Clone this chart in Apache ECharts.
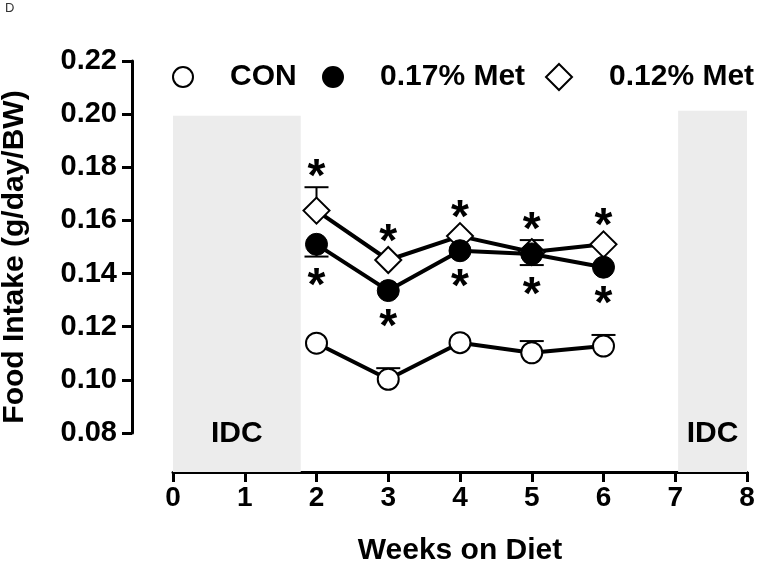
<!DOCTYPE html>
<html>
<head>
<meta charset="utf-8">
<script src="https://cdn.jsdelivr.net/npm/echarts@6/dist/echarts.min.js"></script>
<style>
  html, body { margin: 0; padding: 0; background: #fff; }
  #chart { width: 759px; height: 570px; }
</style>
</head>
<body>
<div id="chart"></div>
<script>
var FONT = 'Liberation Sans, Arial, sans-serif';

// weeks on diet
var weeks = [2, 3, 4, 5, 6];
// food intake means (g/day/BW)
var conMean = [0.1138, 0.1002, 0.1140, 0.1102, 0.1127];
var met017Mean = [0.1510, 0.1336, 0.1486, 0.1474, 0.1424];
var met012Mean = [0.1637, 0.1451, 0.1541, 0.1481, 0.1510];
// visible SEM (up / down), 0 = hidden behind the marker
var conErrUp = [0, 0.0042, 0, 0.0044, 0.0042];
var conErrDown = [0, 0, 0, 0, 0];
var met017ErrUp = [0, 0, 0, 0, 0];
var met017ErrDown = [0.0046, 0, 0, 0.0042, 0];
var met012ErrUp = [0.0088, 0, 0, 0.0045, 0];
var met012ErrDown = [0, 0, 0, 0, 0];
// significance (*) vs CON
var sig012 = [1, 1, 1, 1, 1];
var sig017 = [1, 1, 1, 1, 1];
// IDC periods (weeks) and their height
var idcRanges = [[0, 1.78], [7.04, 8]];
var idcTop = [0.1994, 0.2013];

var yTicks = [0.08, 0.10, 0.12, 0.14, 0.16, 0.18, 0.20, 0.22];
var yFloor = 0.0653; // value at the x axis line (axis sits below 0.08)

function pairs(xs, ys) {
  return xs.map(function (x, i) { return [x, ys[i]]; });
}
function errRows(means, up, down) {
  return weeks.map(function (w, i) { return [w, means[i], up[i], down[i]]; });
}
function sigRows(means, err, sig) {
  var out = [];
  weeks.forEach(function (w, i) { if (sig[i]) out.push([w, means[i], err[i]]); });
  return out;
}

function renderErr(params, api) {
  var x = api.value(0), m = api.value(1), up = api.value(2), dn = api.value(3);
  var c = api.coord([x, m]);
  var half = 12;
  var kids = [];
  var st = { stroke: '#000', lineWidth: 2 };
  [[up, 1], [dn, -1]].forEach(function (e) {
    if (e[0] > 0) {
      var t = api.coord([x, m + e[0] * e[1]]);
      kids.push({ type: 'line', shape: { x1: c[0], y1: c[1], x2: t[0], y2: t[1] }, style: st });
      kids.push({ type: 'line', shape: { x1: t[0] - half, y1: t[1], x2: t[0] + half, y2: t[1] }, style: st });
    }
  });
  return { type: 'group', children: kids };
}

function renderSig(dir) {
  return function (params, api) {
    var x = api.value(0), m = api.value(1), e = api.value(2);
    var c = api.coord([x, m]);
    var t = api.coord([x, m + dir * e]);
    var y;
    if (dir > 0) y = Math.min(c[1] - 27, t[1] - 19);
    else y = Math.max(c[1] + 28, t[1] + 21);
    return {
      type: 'text',
      x: c[0],
      y: y + 10,
      style: { text: '*', fontSize: 46, fontWeight: 'bold', fontFamily: FONT, fill: '#000', align: 'center', verticalAlign: 'middle' }
    };
  };
}

var legendText = { fontSize: 30, fontWeight: 'bold', color: '#000', fontFamily: FONT, padding: [0, 0, 0, 32] };
function legendAt(name, icon, fill, left, size) {
  return {
    left: left, top: 62, padding: 0,
    itemWidth: size, itemHeight: size,
    textStyle: legendText,
    data: [{ name: name, icon: icon, itemStyle: { color: fill, borderColor: '#000', borderWidth: 2 } }]
  };
}

var chart = echarts.init(document.getElementById('chart'));
var option = {
  animation: false,
  title: { text: 'D', left: 5, top: 2, padding: 0, textStyle: { fontSize: 13, fontWeight: 'normal', color: '#333', fontFamily: FONT } },
  legend: [
    legendAt('CON', 'circle', '#fff', 172, 20),
    legendAt('0.17% Met', 'circle', '#000', 322, 20),
    legendAt('0.12% Met', 'diamond', '#fff', 545, 26)
  ],
  grid: [
    // data area
    { left: 173, right: 12, top: 61, height: 372, outerBoundsMode: 'none', containLabel: false },
    // x axis + IDC shading (reaches below 0.08)
    { left: 173, right: 12, top: 61, height: 411, outerBoundsMode: 'none', containLabel: false },
    // detached y axis
    { left: 132, right: 12, top: 61, height: 372, outerBoundsMode: 'none', containLabel: false }
  ],
  xAxis: [
    { gridIndex: 0, type: 'value', min: 0, max: 8, show: false },
    {
      gridIndex: 1, type: 'value', min: 0, max: 8, interval: 1,
      name: 'Weeks on Diet', nameLocation: 'middle', nameGap: 64,
      nameTextStyle: { fontSize: 30, fontWeight: 'bold', color: '#000', fontFamily: FONT },
      axisLine: { show: true, lineStyle: { color: '#000', width: 3 } },
      axisTick: { show: true, length: 10, lineStyle: { color: '#000', width: 3 } },
      axisLabel: { fontSize: 28, fontWeight: 'bold', color: '#000', fontFamily: FONT, margin: 12 },
      splitLine: { show: false }
    },
    { gridIndex: 2, type: 'value', min: 1, max: 2, show: false }
  ],
  yAxis: [
    { gridIndex: 0, type: 'value', min: yTicks[0], max: yTicks[yTicks.length - 1], show: false },
    { gridIndex: 1, type: 'value', min: yFloor, max: 0.22, show: false },
    {
      gridIndex: 2, type: 'value', min: yTicks[0], max: yTicks[yTicks.length - 1], interval: 0.02,
      name: 'Food Intake (g/day/BW)', nameLocation: 'middle', nameGap: 102,
      nameTextStyle: { fontSize: 30, fontWeight: 'bold', color: '#000', fontFamily: FONT, padding: [0, 20, 0, 0] },
      axisLine: { show: true, lineStyle: { color: '#000', width: 3 } },
      axisTick: { show: true, length: 10, lineStyle: { color: '#000', width: 3 } },
      axisLabel: { fontSize: 29, fontWeight: 'bold', color: '#000', fontFamily: FONT, margin: 15,
        formatter: function (v) { return v.toFixed(2); } },
      splitLine: { show: false }
    }
  ],
  series: [
    {
      name: 'IDC', type: 'line', xAxisIndex: 1, yAxisIndex: 1, data: [], z: 0,
      markArea: {
        silent: true,
        itemStyle: { color: '#ececec' },
        label: { show: true, position: 'insideBottom', distance: 23, fontSize: 30, fontWeight: 'bold', color: '#000', fontFamily: FONT },
        data: idcRanges.map(function (r, i) {
          return [{ name: 'IDC', xAxis: r[0], yAxis: idcTop[i] }, { xAxis: r[1], yAxis: yFloor }];
        })
      }
    },
    {
      type: 'custom', name: 'errCON', xAxisIndex: 0, yAxisIndex: 0, z: 1,
      renderItem: renderErr, data: errRows(conMean, conErrUp, conErrDown)
    },
    {
      type: 'custom', name: 'err012', xAxisIndex: 0, yAxisIndex: 0, z: 1,
      renderItem: renderErr, data: errRows(met012Mean, met012ErrUp, met012ErrDown)
    },
    {
      type: 'custom', name: 'err017', xAxisIndex: 0, yAxisIndex: 0, z: 1,
      renderItem: renderErr, data: errRows(met017Mean, met017ErrUp, met017ErrDown)
    },
    {
      name: 'CON', type: 'line', xAxisIndex: 0, yAxisIndex: 0, z: 3,
      data: pairs(weeks, conMean),
      symbol: 'circle', symbolSize: 21,
      itemStyle: { color: '#fff', borderColor: '#000', borderWidth: 2 },
      lineStyle: { color: '#000', width: 4 }
    },
    {
      name: '0.12% Met', type: 'line', xAxisIndex: 0, yAxisIndex: 0, z: 3,
      data: pairs(weeks, met012Mean),
      symbol: 'diamond', symbolSize: 26,
      itemStyle: { color: '#fff', borderColor: '#000', borderWidth: 2 },
      lineStyle: { color: '#000', width: 4 }
    },
    {
      name: '0.17% Met', type: 'line', xAxisIndex: 0, yAxisIndex: 0, z: 4,
      data: pairs(weeks, met017Mean),
      symbol: 'circle', symbolSize: 22,
      itemStyle: { color: '#000', borderColor: '#000', borderWidth: 1 },
      lineStyle: { color: '#000', width: 4 }
    },
    {
      type: 'custom', name: 'sig012', xAxisIndex: 0, yAxisIndex: 0, z: 5,
      renderItem: renderSig(1), data: sigRows(met012Mean, met012ErrUp, sig012)
    },
    {
      type: 'custom', name: 'sig017', xAxisIndex: 0, yAxisIndex: 0, z: 5,
      renderItem: renderSig(-1), data: sigRows(met017Mean, met017ErrDown, sig017)
    }
  ]
};
chart.setOption(option);
window.onresize = chart.resize;
</script>
</body>
</html>
